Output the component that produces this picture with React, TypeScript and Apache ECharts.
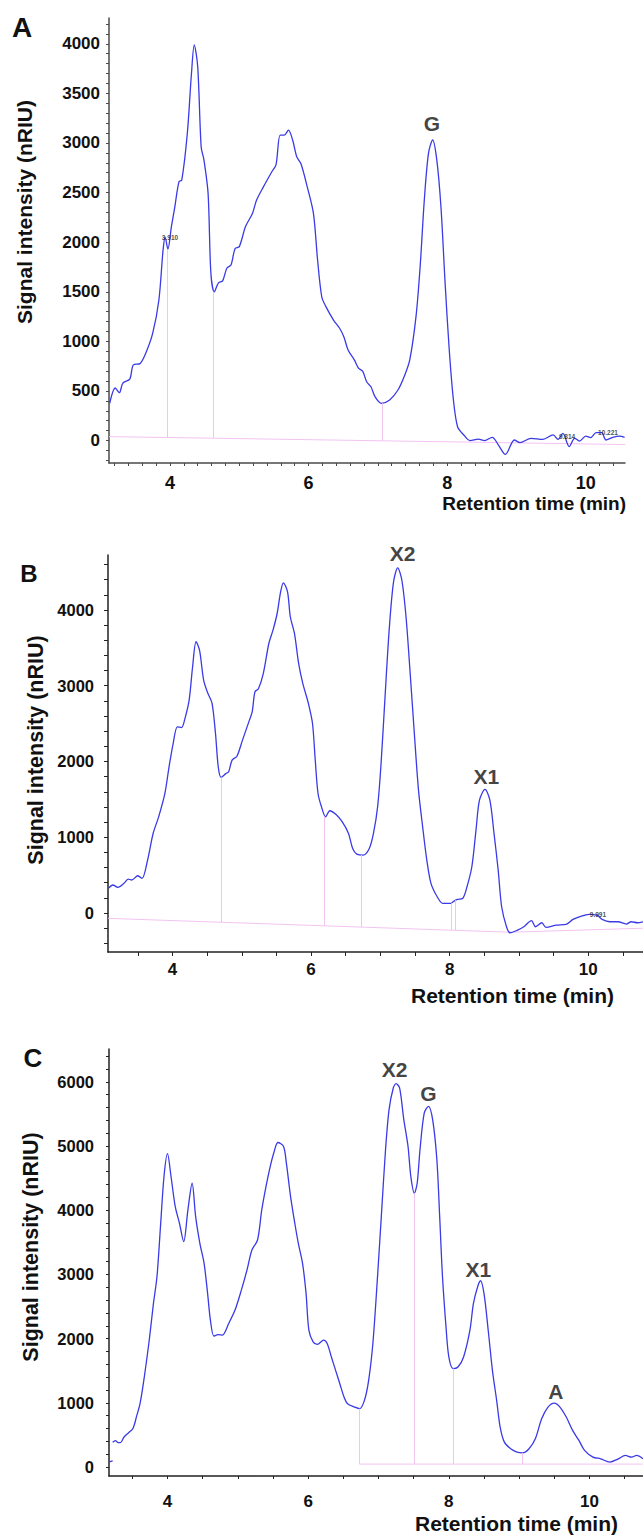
import React, { useEffect, useRef } from "react";
import * as echarts from "echarts";

// ---------- data (retention time in min, signal in nRIU) ----------
const traceA: number[][] = [
  [3.13, 376], [3.21, 530], [3.27, 483], [3.32, 580], [3.42, 620], [3.47, 762], [3.57, 778],
  [3.65, 880], [3.75, 1080], [3.84, 1417], [3.9, 1920], [3.93, 2050], [3.97, 1930], [4.02, 2155],
  [4.07, 2357], [4.13, 2610], [4.17, 2625], [4.25, 3095], [4.31, 3700], [4.35, 3990], [4.4, 3770],
  [4.45, 2960], [4.49, 2830], [4.55, 2490], [4.59, 1690], [4.64, 1500], [4.7, 1590], [4.76, 1610],
  [4.82, 1737], [4.88, 1770], [4.94, 1937], [5.0, 1955], [5.09, 2157], [5.19, 2290], [5.25, 2425],
  [5.35, 2560], [5.47, 2710], [5.53, 2780], [5.59, 3080], [5.65, 3080], [5.71, 3130], [5.77, 3030],
  [5.83, 2860], [5.89, 2790], [5.98, 2560], [6.07, 2290], [6.13, 1820], [6.19, 1450], [6.25, 1350],
  [6.36, 1215], [6.45, 1130], [6.51, 1045], [6.57, 913], [6.66, 813], [6.72, 730], [6.78, 700],
  [6.84, 590], [6.9, 543], [6.96, 440], [7.05, 376], [7.17, 410], [7.29, 510], [7.38, 645],
  [7.46, 813], [7.55, 1250], [7.61, 1755], [7.67, 2425], [7.73, 2895], [7.79, 3030], [7.85, 2830],
  [7.91, 2357], [7.97, 1590], [8.03, 913], [8.09, 410], [8.15, 140], [8.24, 56], [8.33, 0],
  [8.45, 15], [8.54, 0], [8.65, 33], [8.74, -45], [8.84, -140], [8.97, 6], [9.05, -20],
  [9.21, 23], [9.38, 12], [9.53, 57], [9.6, 12], [9.67, 73], [9.76, -60], [9.84, 23], [9.91, -5],
  [10.0, 45], [10.07, 30], [10.15, 80], [10.23, 80], [10.29, 6], [10.39, 33], [10.49, 45], [10.56, 33],
];

const traceB: number[][] = [
  [3.08, 330], [3.14, 370], [3.21, 340], [3.3, 392], [3.36, 449], [3.41, 436], [3.5, 492],
  [3.56, 457], [3.64, 699], [3.72, 1050], [3.8, 1270], [3.89, 1580], [3.95, 1930], [4.01, 2240],
  [4.07, 2457], [4.13, 2448], [4.18, 2570], [4.24, 2810], [4.29, 3250], [4.34, 3580], [4.39, 3470],
  [4.45, 3070], [4.51, 2900], [4.57, 2770], [4.62, 2373], [4.66, 1930], [4.7, 1790], [4.77, 1840],
  [4.81, 1865], [4.86, 2018], [4.93, 2070], [5.01, 2282], [5.11, 2546], [5.15, 2655], [5.19, 2920],
  [5.24, 2960], [5.31, 3160], [5.39, 3557], [5.45, 3733], [5.51, 3953], [5.56, 4238], [5.6, 4357],
  [5.66, 4238], [5.7, 3910], [5.76, 3690], [5.82, 3295], [5.88, 3030], [5.96, 2770], [6.02, 2505],
  [6.06, 2018], [6.1, 1578], [6.15, 1402], [6.21, 1270], [6.27, 1350], [6.36, 1300], [6.45, 1204],
  [6.54, 1051], [6.6, 853], [6.66, 778], [6.75, 765], [6.84, 853], [6.9, 1051], [6.96, 1402],
  [7.01, 1974], [7.07, 2897], [7.13, 3776], [7.19, 4370], [7.25, 4555], [7.31, 4392], [7.37, 3910],
  [7.43, 3162], [7.49, 2370], [7.55, 1622], [7.61, 1138], [7.67, 699], [7.73, 392], [7.82, 215],
  [7.9, 128], [8.02, 128], [8.05, 150], [8.11, 180], [8.19, 195], [8.25, 347], [8.32, 611],
  [8.38, 1095], [8.43, 1490], [8.51, 1632], [8.58, 1490], [8.64, 1051], [8.7, 567], [8.75, 83],
  [8.82, -181], [8.87, -260], [8.98, -225], [9.07, -181], [9.18, -101], [9.24, -181], [9.33, -128],
  [9.39, -190], [9.54, -160], [9.69, -145], [9.78, -83], [9.9, -40], [10.01, -18], [10.13, -31],
  [10.2, -83], [10.31, -115], [10.43, -115], [10.55, -145], [10.62, -115], [10.71, -128], [10.79, -115],
];

const traceCStart: number[][] = [[3.17, 80], [3.22, 97]];

const traceC: number[][] = [
  [3.22, 385], [3.26, 412], [3.29, 385], [3.33, 380], [3.38, 464], [3.44, 527], [3.51, 605],
  [3.56, 788], [3.61, 990], [3.67, 1402], [3.74, 1975], [3.8, 2548], [3.85, 2963], [3.9, 3744],
  [3.95, 4525], [4.0, 4880], [4.05, 4525], [4.11, 4056], [4.17, 3797], [4.23, 3510], [4.29, 4004],
  [4.35, 4420], [4.4, 3900], [4.46, 3485], [4.52, 3173], [4.57, 2704], [4.61, 2288], [4.66, 2038],
  [4.72, 2063], [4.78, 2055], [4.87, 2236], [4.96, 2444], [5.05, 2756], [5.13, 3068], [5.2, 3380],
  [5.28, 3536], [5.34, 4004], [5.4, 4368], [5.46, 4680], [5.51, 4888], [5.57, 5055], [5.65, 4992],
  [5.69, 4732], [5.75, 4212], [5.81, 3797], [5.86, 3485], [5.92, 3173], [5.97, 2704], [6.01, 2131],
  [6.07, 1948], [6.13, 1910], [6.22, 1975], [6.27, 1923], [6.33, 1714], [6.39, 1506], [6.45, 1298],
  [6.51, 1090], [6.56, 986], [6.66, 934], [6.73, 908], [6.8, 1038], [6.86, 1350], [6.92, 1923],
  [6.98, 2860], [7.04, 3900], [7.1, 4941], [7.15, 5566], [7.21, 5904], [7.25, 5971], [7.3, 5904],
  [7.36, 5410], [7.42, 4993], [7.46, 4524], [7.51, 4264], [7.55, 4420], [7.59, 4941], [7.65, 5514],
  [7.71, 5618], [7.77, 5410], [7.83, 4785], [7.87, 3900], [7.91, 2963], [7.96, 2182], [8.0, 1714],
  [8.06, 1532], [8.13, 1558], [8.21, 1714], [8.3, 2131], [8.35, 2548], [8.41, 2808], [8.45, 2901],
  [8.5, 2704], [8.56, 2131], [8.62, 1506], [8.68, 1038], [8.73, 622], [8.79, 388], [8.88, 284],
  [8.97, 231], [9.05, 220], [9.14, 284], [9.23, 440], [9.32, 752], [9.41, 934], [9.5, 996],
  [9.58, 934], [9.67, 778], [9.76, 570], [9.85, 414], [9.93, 258], [10.05, 154], [10.16, 128],
  [10.29, 76], [10.41, 128], [10.51, 180], [10.6, 154], [10.67, 180], [10.76, 128],
];

// integration baselines and drop lines: [t, curve value, baseline value]
const baselineA: number[][] = [[3.12, 40], [10.57, -40]];
const dropsA: number[][] = [[3.96, 1925, 31], [4.63, 1500, 24], [7.07, 376, -2]];
const baselineB: number[][] = [[3.07, -70], [8.87, -253], [10.79, -200]];
const dropsB: number[][] = [[4.7, 1790, -121], [6.19, 1275, -168], [6.72, 768, -185], [8.02, 128, -226], [8.08, 170, -228]];
const baselineC: number[][] = [[6.73, 45], [10.76, 45]];
const dropsC: number[][] = [[6.73, 908, 45], [7.51, 4264, 45], [8.06, 1532, 45], [9.05, 220, 45]];

// peak annotations: [text, t, value]
const peakLabelsA: [string, number, number][] = [["G", 7.78, 3200]];
const peakLabelsB: [string, number, number][] = [["X2", 7.32, 4745], ["X1", 8.53, 1798]];
const peakLabelsC: [string, number, number][] = [["X2", 7.23, 6184], ["G", 7.71, 5821], ["X1", 8.42, 3069], ["A", 9.52, 1173]];
const rtLabelsA: [string, number, number][] = [["3.910", 4.0, 2052], ["9.814", 9.73, 46], ["10.221", 10.32, 77]];
const rtLabelsB: [string, number, number][] = [["9.991", 10.14, -22]];

// tick labels
const xTickLabels = [4, 6, 8, 10];
const yTickLabelsA = [0, 500, 1000, 1500, 2000, 2500, 3000, 3500, 4000];
const yTickLabelsB = [0, 1000, 2000, 3000, 4000];
const yTickLabelsC = [0, 1000, 2000, 3000, 4000, 5000, 6000];

const FONT = "'Liberation Sans', Arial, sans-serif";
const CURVE = "#3a3ae6";
const PINK = "#f2c4f2";

function steps(a: number, b: number, s: number) {
  const out: number[] = [];
  for (let i = 0; a + i * s <= b + 1e-9; i++) out.push(Math.round((a + i * s) * 1000) / 1000);
  return out;
}

export default function App() {
  const ref = useRef<HTMLDivElement>(null);
  useEffect(() => {
    if (!ref.current) return;
    const chart = echarts.init(ref.current, null, { renderer: "svg" });

    const panels = [
      {
        grid: { left: 109, top: 18, width: 516, height: 445 },
        x: [3.12, 10.566], y: [-226, 4260],
        xMinor: steps(3.2, 10.4, 0.2), yMinor: steps(-200, 4200, 100),
        yLabels: yTickLabelsA, axisColor: "#4a4a4a", tickLen: 3,
        yMargin: 9, xMargin: 11, yFont: 17, xFont: 18,
        trace: [traceA], base: baselineA, drops: dropsA,
        peaks: peakLabelsA, rts: rtLabelsA,
      },
      {
        grid: { left: 108, top: 555, width: 535, height: 397 },
        x: [3.069, 10.79], y: [-514, 4725],
        xMinor: steps(3.5, 10.5, 0.5), yMinor: steps(-400, 4600, 200),
        yLabels: yTickLabelsB, axisColor: "#222", tickLen: 4,
        yMargin: 14, xMargin: 9, yFont: 16.5, xFont: 17,
        trace: [traceB], base: baselineB, drops: dropsB,
        peaks: peakLabelsB, rts: rtLabelsB,
      },
      {
        grid: { left: 109, top: 1049, width: 534, height: 427 },
        x: [3.168, 10.761], y: [-140, 6511],
        xMinor: steps(3.5, 10.5, 0.5), yMinor: steps(0, 6400, 200),
        yLabels: yTickLabelsC, axisColor: "#222", tickLen: 3,
        yMargin: 15, xMargin: 17, yFont: 16.5, xFont: 17,
        trace: [traceCStart, traceC], base: baselineC, drops: dropsC,
        peaks: peakLabelsC, rts: [] as [string, number, number][],
      },
    ];

    const grid: any[] = [];
    const xAxis: any[] = [];
    const yAxis: any[] = [];
    const series: any[] = [];

    panels.forEach((p, i) => {
      grid.push({ ...p.grid, containLabel: false });
      xAxis.push({
        type: "value", gridIndex: i, min: p.x[0], max: p.x[1],
        axisLine: { show: true, onZero: false, lineStyle: { color: p.axisColor, width: 1.5 } },
        axisTick: { show: true, customValues: p.xMinor, length: p.tickLen, lineStyle: { color: p.axisColor, width: 1 } },
        axisLabel: {
          customValues: xTickLabels, margin: p.xMargin, fontSize: p.xFont, fontWeight: "bold",
          color: "#111", fontFamily: FONT, formatter: (v: number) => String(v),
        },
        splitLine: { show: false },
      });
      yAxis.push({
        type: "value", gridIndex: i, min: p.y[0], max: p.y[1],
        axisLine: { show: true, onZero: false, lineStyle: { color: p.axisColor, width: 1.5 } },
        axisTick: { show: true, customValues: p.yMinor, length: p.tickLen, lineStyle: { color: p.axisColor, width: 1 } },
        axisLabel: {
          customValues: p.yLabels, margin: p.yMargin, fontSize: p.yFont, fontWeight: "bold",
          color: "#111", fontFamily: FONT, formatter: (v: number) => String(v),
        },
        splitLine: { show: false },
      });
      series.push({
        type: "line", xAxisIndex: i, yAxisIndex: i, data: p.base, showSymbol: false, silent: true,
        lineStyle: { color: PINK, width: 1 }, z: 1,
        markLine: {
          silent: true, symbol: "none", label: { show: false },
          lineStyle: { color: PINK, width: 1, type: "solid" },
          data: p.drops.map((d) => [{ coord: [d[0], d[2]] }, { coord: [d[0], d[1]] }]),
        },
      });
      p.trace.forEach((tr) => {
        series.push({
          type: "line", xAxisIndex: i, yAxisIndex: i, data: tr, showSymbol: false, silent: true,
          smooth: 0.3, lineStyle: { color: CURVE, width: 1.3 }, z: 3,
        });
      });
      series.push({
        type: "scatter", xAxisIndex: i, yAxisIndex: i, symbolSize: 1, silent: true, z: 5, clip: false,
        itemStyle: { color: "rgba(0,0,0,0)" },
        data: p.peaks.map(([n, t, v]) => ({ name: n, value: [t, v] })),
        label: { show: true, position: "inside", formatter: "{b}", fontSize: 21, fontWeight: "bold", color: "#111", fontFamily: FONT },
      });
      if (p.rts.length) {
        series.push({
          type: "scatter", xAxisIndex: i, yAxisIndex: i, symbolSize: 1, silent: true, z: 5, clip: false,
          itemStyle: { color: "rgba(0,0,0,0)" },
          data: p.rts.map(([n, t, v]) => ({ name: n, value: [t, v] })),
          label: { show: true, position: "inside", formatter: "{b}", fontSize: 6.5, fontWeight: "bold", color: "#222", fontFamily: FONT },
        });
      }
    });

    const txt = (text: string, x: number, y: number, size: number, align: string, rot = 0) => ({
      type: "text", x, y, rotation: rot, silent: true,
      style: { text, font: `bold ${size}px ${FONT}`, fill: "#111", align, verticalAlign: "middle" },
    });

    chart.setOption({
      animation: false,
      backgroundColor: "#fff",
      grid, xAxis, yAxis, series,
      graphic: [
        txt("A", 22, 27, 28, "center"),
        txt("B", 29, 573, 24, "center"),
        txt("C", 33, 1058, 26, "center"),
        txt("Signal intensity (nRIU)", 24, 212, 21, "center", Math.PI / 2),
        txt("Signal intensity (nRIU)", 36, 750, 21.5, "center", Math.PI / 2),
        txt("Signal intensity (nRIU)", 31, 1247, 21.5, "center", Math.PI / 2),
        txt("Retention time (min)", 626, 503, 19, "right"),
        txt("Retention time (min)", 614, 995, 21, "right"),
        txt("Retention time (min)", 618, 1523.5, 21, "right"),
      ],
    });
    return () => chart.dispose();
  }, []);
  return (
    <div
      ref={ref}
      style={{ position: "absolute", left: 0, top: 0, width: 643, height: 1536, background: "#fff" }}
    />
  );
}
